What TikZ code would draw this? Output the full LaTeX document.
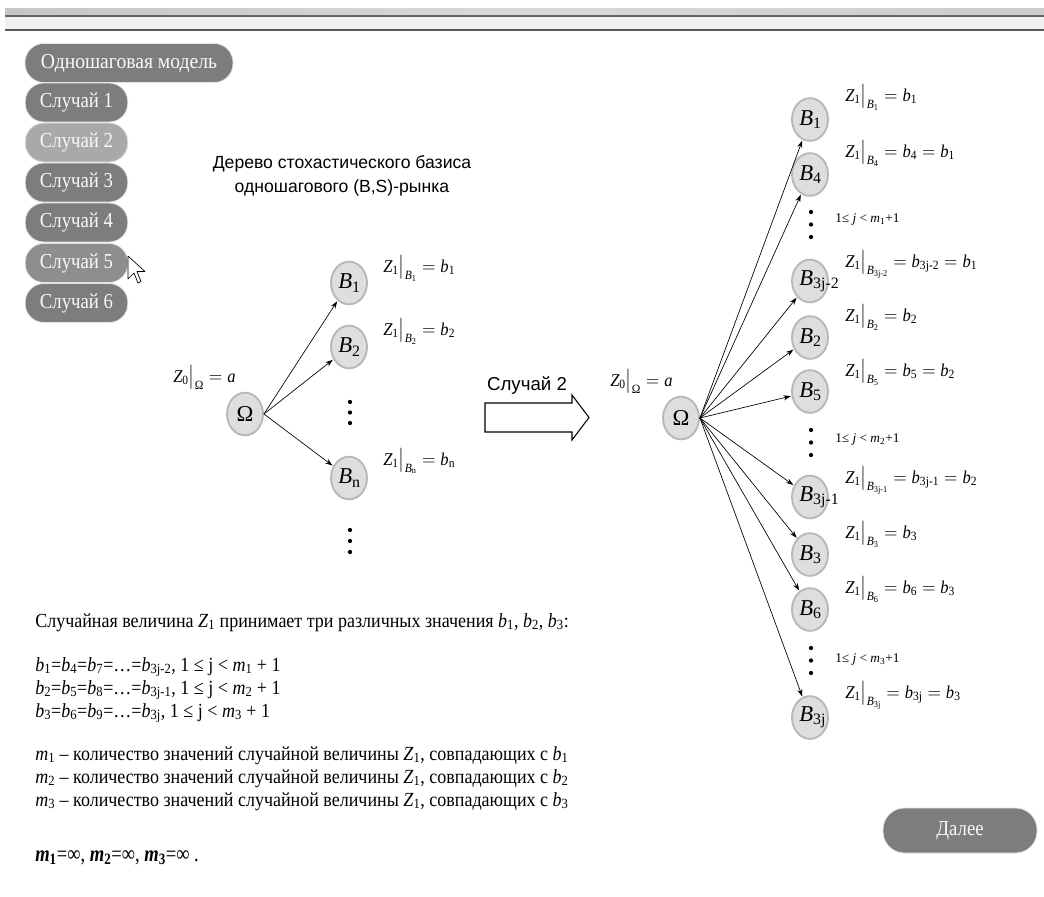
\documentclass[tikz,border=0pt]{standalone}
\usepackage{amsmath}
\usepackage{fontspec}
\setmainfont{Liberation Serif}
\newfontfamily\arialfont{Liberation Sans}
\usepackage{graphicx}
\usetikzlibrary{arrows.meta,shapes.geometric}

% helpers for the formulas
\newcommand{\mitx}[1]{\text{\itshape #1}}
\newcommand{\mupx}[1]{\text{\upshape #1}}
\newcommand{\bval}[1]{\mitx{b}_{\mupx{#1}}}
\newcommand{\zlab}[2]{\scalebox{0.92}[1]{$\mitx{Z}_{\mupx{1}}\big|_{\mitx{B}_{\mupx{#1}}}=#2$}}
\newcommand{\bnode}[1]{\makebox[0pt][l]{\hspace{-8pt}$\mitx{B}_{\mupx{#1}}$}}
\newcommand{\isub}[2]{\textit{#1}\textsubscript{#2}}
\newcommand{\condensed}[1]{\scalebox{0.88}[1]{#1}}
\newcommand{\condtext}[1]{\scalebox{0.9}[1]{#1}}

\definecolor{btndark}{HTML}{7D7D7D}
\definecolor{btnlight}{HTML}{A9A9A9}
\definecolor{btnhover}{HTML}{8E8E8E}
\definecolor{nodefill}{HTML}{DEDEDE}
\definecolor{nodeline}{HTML}{B8B8B8}

\begin{document}
\begin{tikzpicture}[x=0.75pt,y=-0.75pt,
  btn/.style={rectangle, rounded corners=14pt, fill=#1, draw=white!80!gray,
    line width=0.6pt, text=white!95!gray, minimum height=29.25pt, inner sep=0pt,
    font=\fontsize{16}{18}\selectfont},
  state/.style={ellipse, fill=nodefill, draw=nodeline, line width=1.4pt,
    minimum width=27pt, minimum height=32pt, inner sep=0pt,
    font=\fontsize{17}{19}\selectfont},
  lab/.style={anchor=base west, inner sep=0pt, font=\fontsize{13.5}{15}\selectfont},
  cond/.style={anchor=base west, inner sep=0pt, font=\fontsize{10}{12}\selectfont},
  body/.style={anchor=base west, inner sep=0pt, font=\fontsize{15}{17}\selectfont},
  arr/.style={-{Stealth[length=5.5pt,width=3.8pt]}, line width=0.5pt, shorten >=0.5pt},
  dot/.style={fill=black}]

\useasboundingbox (0,0) rectangle (1044,896);
\fill[white] (0,0) rectangle (1044,896);

% window bars at the top
\shade[left color=gray!45, right color=gray!40, middle color=gray!30] (5,8) rectangle (1044,16);
\fill[gray!12] (5,16) rectangle (1044,30);
\draw[gray!80!black, line width=0.8pt] (5,16) -- (1044,16);
\draw[gray!70!black, line width=0.8pt] (5,30) -- (1044,30);

% menu buttons
\node[btn=btndark, minimum width=156pt] (m0) at (129,63) {\scalebox{0.92}[1]{Одношаговая модель}};
\node[btn=btndark, minimum width=77pt] (m1) at (76.5,102.5) {\condensed{Случай 1}};
\node[btn=btnlight, minimum width=77pt] (m2) at (76.5,142.5) {\condensed{Случай 2}};
\node[btn=btndark, minimum width=77pt] (m3) at (76.5,182.5) {\condensed{Случай 3}};
\node[btn=btndark, minimum width=77pt] (m4) at (76.5,222.5) {\condensed{Случай 4}};
\node[btn=btnhover, minimum width=77pt] (m5) at (76.5,263) {\condensed{Случай 5}};
\node[btn=btndark, minimum width=77pt] (m6) at (76.5,303) {\condensed{Случай 6}};

% mouse pointer
\filldraw[fill=white, draw=black, line width=0.5pt, line join=round]
  (128,256) -- ++(0,23) -- ++(6,-6) -- ++(4,10) -- ++(3,-1.5) -- ++(-4,-10) -- ++(8,0) -- cycle;

% title
\node[align=center, font=\arialfont\fontsize{13.2}{18}\selectfont, inner sep=0pt]
  (title) at (342,176) {Дерево стохастического базиса\\одношагового (B,S)-рынка};

% left tree
\node[state] (O) at (245,414) {Ω};
\node[state] (L1) at (349,283) {\bnode{1}};
\node[state] (L2) at (349,347) {\bnode{2}};
\node[state] (Ln) at (349,478) {\bnode{n}};
\foreach \yy in {402,412.5,423,530,541,552} \fill[dot] (350,\yy) circle (1.6pt);
\draw[arr] (O.east) -- (L1);
\draw[arr] (O.east) -- (L2);
\draw[arr] (O.east) -- (Ln);
\node[lab] (lz0) at (173,382) {\scalebox{0.92}[1]{$\mitx{Z}_{\mupx{0}}\big|_{\text{Ω}}=\mitx{a}$}};
\node[lab] (lz1) at (383,272) {\zlab{1}{\bval{1}}};
\node[lab] (lz2) at (383,335) {\zlab{2}{\bval{2}}};
\node[lab] (lzn) at (383,465) {\zlab{n}{\bval{n}}};

% transition arrow
\draw[line width=0.8pt, line join=miter] (485,403) -- (572,403) -- (572,395) -- (589,417.5)
  -- (572,440) -- (572,432) -- (485,432) -- cycle;
\node[font=\arialfont\fontsize{14}{16}\selectfont, inner sep=0pt] (case) at (527,386) {Случай 2};

% right tree
\node[state] (R) at (681,418) {Ω};
\node[lab] (rz0) at (610,386) {\scalebox{0.92}[1]{$\mitx{Z}_{\mupx{0}}\big|_{\text{Ω}}=\mitx{a}$}};
\node[state] (r1) at (810,119.5) {\bnode{1}};
\node[state] (r4) at (810,174.5) {\bnode{4}};
\node[state] (r7) at (810,281) {\bnode{3j-2}};
\node[state] (r2) at (810,337.5) {\bnode{2}};
\node[state] (r5) at (810,391.5) {\bnode{5}};
\node[state] (r8) at (810,497) {\bnode{3j-1}};
\node[state] (r3) at (810,554.5) {\bnode{3}};
\node[state] (r6) at (810,609.5) {\bnode{6}};
\node[state] (r9) at (810,717.5) {\bnode{3j}};
\foreach \yy in {212,224.5,237,430,442.5,455,648,660.5,673} \fill[dot] (811,\yy) circle (1.6pt);
\foreach \t in {r1,r4,r7,r2,r5,r8,r3,r6,r9} \draw[arr] (R.east) -- (\t);

\node[lab] (z1) at (845,101) {\zlab{1}{\bval{1}}};
\node[lab] (z4) at (845,157) {\zlab{4}{\bval{4}=\bval{1}}};
\node[cond] (c1) at (835,222) {1≤ \textit{j} < \isub{m}{1}+1};
\node[lab] (z7) at (845,267) {\zlab{3j-2}{\bval{3j-2}=\bval{1}}};
\node[lab] (z2) at (845,321) {\zlab{2}{\bval{2}}};
\node[lab] (z5) at (845,376) {\zlab{5}{\bval{5}=\bval{2}}};
\node[cond] (c2) at (835,442) {1≤ \textit{j} < \isub{m}{2}+1};
\node[lab] (z8) at (845,483) {\zlab{3j-1}{\bval{3j-1}=\bval{2}}};
\node[lab] (z3) at (845,538) {\zlab{3}{\bval{3}}};
\node[lab] (z6) at (845,593) {\zlab{6}{\bval{6}=\bval{3}}};
\node[cond] (c3) at (835,662) {1≤ \textit{j} < \isub{m}{3}+1};
\node[lab] (z9) at (845,698) {\zlab{3j}{\bval{3j}=\bval{3}}};

% explanatory text
\node[body] (t1) at (35,627) {\condtext{Случайная величина \isub{Z}{1} принимает три различных значения \isub{b}{1}, \isub{b}{2}, \isub{b}{3}:}};
\node[body] (t2) at (35,671) {\condtext{\isub{b}{1}=\isub{b}{4}=\isub{b}{7}=…=\isub{b}{3j-2}, 1 ≤ j < \isub{m}{1} + 1}};
\node[body] (t3) at (35,694) {\condtext{\isub{b}{2}=\isub{b}{5}=\isub{b}{8}=…=\isub{b}{3j-1}, 1 ≤ j < \isub{m}{2} + 1}};
\node[body] (t4) at (35,717) {\condtext{\isub{b}{3}=\isub{b}{6}=\isub{b}{9}=…=\isub{b}{3j}, 1 ≤ j < \isub{m}{3} + 1}};
\node[body] (t5) at (35,760) {\condtext{\isub{m}{1} – количество значений случайной величины \isub{Z}{1}, совпадающих с \isub{b}{1}}};
\node[body] (t6) at (35,783) {\condtext{\isub{m}{2} – количество значений случайной величины \isub{Z}{1}, совпадающих с \isub{b}{2}}};
\node[body] (t7) at (35,806) {\condtext{\isub{m}{3} – количество значений случайной величины \isub{Z}{1}, совпадающих с \isub{b}{3}}};
\node[body, font=\fontsize{17}{19}\selectfont] (t8) at (35,861)
  {\scalebox{0.82}[1]{\textbf{\textit{m}\textsubscript{1}}=∞, \textbf{\textit{m}\textsubscript{2}}=∞, \textbf{\textit{m}\textsubscript{3}}=∞ .}};

% next button
\node[btn=btndark, minimum width=115.5pt, minimum height=33.75pt, rounded corners=16pt] (next) at (960,830.5) {\condensed{Далее}};

\end{tikzpicture}
\end{document}
